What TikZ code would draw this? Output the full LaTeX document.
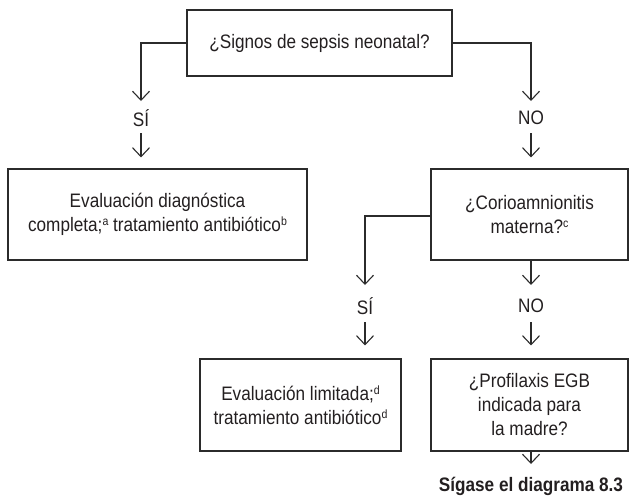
\documentclass[tikz,border=0pt]{standalone}
\usepackage{fontspec}
\setmainfont{Liberation Sans}[FakeStretch=0.88]
\usetikzlibrary{arrows.meta}
\definecolor{ink}{HTML}{231F20}
\definecolor{linecol}{HTML}{2B2B2B}
\newcommand{\supl}[1]{\raisebox{0.6ex}{\fontsize{12}{12}\selectfont #1}}
\begin{document}
\begin{tikzpicture}[x=1pt,y=-1pt,
  box/.style={draw=linecol, line width=1.1pt, inner sep=0pt, align=center,
    text=ink, font=\fontsize{19.5}{24}\selectfont},
  lbl/.style={inner sep=0pt, text=ink, font=\fontsize{19.5}{24}\selectfont},
  arr/.style={draw=linecol, line width=1.1pt,
    -{Straight Barb[length=9pt,width=17pt,line width=1.1pt]}}]
\useasboundingbox (0,0) rectangle (629,501);
\node[box, minimum width=265pt, minimum height=66pt] (top) at (319.5,43) {¿Signos de sepsis neonatal?};
\node[box, minimum width=299pt, minimum height=91pt] (lbox) at (157.5,214.5)
  {Evaluación diagnóstica\\completa;\supl{a} tratamiento antibiótico\supl{b}};
\node[box, minimum width=197pt, minimum height=91pt] (rbox) at (529.5,214.5)
  {¿Corioamnionitis\\materna?\supl{c}};
\node[box, minimum width=201pt, minimum height=92pt] (sbox) at (300.5,405)
  {Evaluación limitada;\supl{d}\\tratamiento antibiótico\supl{d}};
\node[box, minimum width=197pt, minimum height=92pt] (pbox) at (529.5,405)
  {¿Profilaxis EGB\\indicada para\\la madre?};
\node[lbl] (si1) at (141,118) {SÍ};
\node[lbl] (no1) at (531,118) {NO};
\node[lbl] (si2) at (365,306) {SÍ};
\node[lbl] (no2) at (531,306) {NO};
\node[inner sep=0pt, text=ink, font=\fontsize{19.5}{24}\selectfont\bfseries] (sig) at (531,486) {Sígase el diagrama 8.3};
\coordinate (t1) at (141,101);
\coordinate (t2) at (531,101);
\coordinate (t3) at (365,285);
\coordinate (t5) at (531,464);
% top branches
\draw[arr] (top.west) -| (t1);
\draw[arr] (top.east) -| (t2);
\draw[arr, shorten <=15pt, shorten >=11pt] (si1.center) -- (si1.center |- lbox.north);
\draw[arr, shorten <=15pt, shorten >=11pt] (no1.center) -- (no1.center |- rbox.north);
% second level
\draw[arr] ([yshift=-1.5pt]rbox.west) -| (t3);
\draw[arr] (t2 |- rbox.south) -- (t2 |- t3);
\draw[arr, shorten <=16pt, shorten >=13pt] (si2.center) -- (si2.center |- sbox.north);
\draw[arr, shorten <=16pt, shorten >=13pt] (no2.center) -- (no2.center |- pbox.north);
% final
\draw[arr] (t5 |- pbox.south) -- (t5);
\end{tikzpicture}
\end{document}
